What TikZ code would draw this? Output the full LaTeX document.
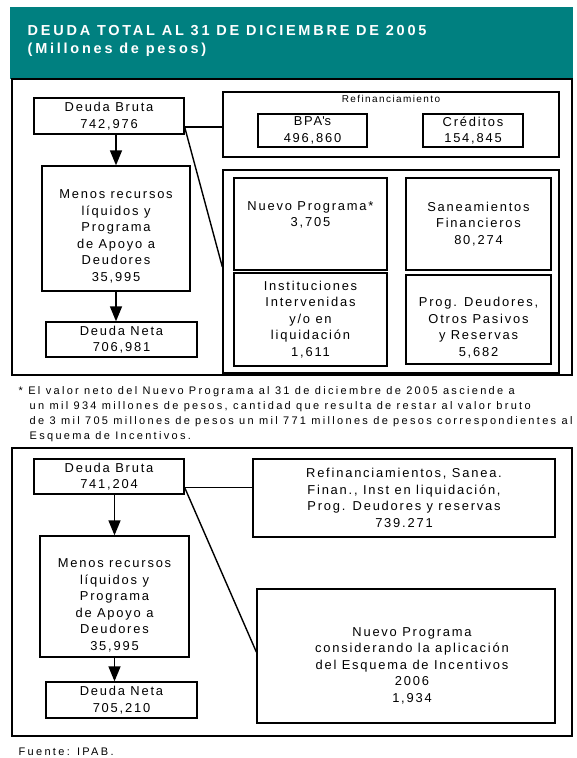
\documentclass[tikz,border=0pt]{standalone}
\usepackage{fontspec}
\setmainfont{Liberation Sans}[LetterSpace=14]
\newfontfamily\notafont{Liberation Sans}[LetterSpace=21]
\newfontfamily\titulofont{Liberation Sans}[LetterSpace=19]
\usepackage{tikz}
\usetikzlibrary{arrows.meta,positioning}
\definecolor{verdeipab}{RGB}{0,128,128}

\begin{document}
\begin{tikzpicture}[
            x = 1pt, y = -1pt, % pixel units, y going down
            > = {Triangle[width=12pt,length=15pt]}, % arrow head style
            line width = 1.4pt, % line style
            texto/.style = {font=\fontsize{12.9}{16.5}\selectfont, align=center},
            caja/.style = {draw=black, line width=1.3pt, inner sep=0pt, texto},
            marco/.style = {draw=black, line width=1.6pt},
            nota/.style = {font=\notafont\fontsize{11}{15}\selectfont, align=left, inner sep=0pt}
        ]
\useasboundingbox (0,0) rectangle (577,758);
\fill[verdeipab] (10,7) rectangle (573,79);
\node[anchor=west, text=white, align=left, inner sep=0pt, font=\titulofont\bfseries\fontsize{14.5}{18}\selectfont] (titulo) at (27,41) {DEUDA TOTAL AL 31 DE DICIEMBRE DE 2005\\(Millones de pesos)};

% 2005
\draw[marco] (12,79) rectangle (572,375);
\node[caja, minimum width=150pt, minimum height=36pt] (bruto1) at (109,116) {Deuda Bruta\\742,976};
\node[caja, minimum width=148pt, minimum height=125pt, label={[texto,yshift=-8pt]center:Menos recursos\\líquidos y\\Programa\\de Apoyo a\\Deudores\\35,995}] (menos1) at (116,228.5) {};
\node[caja, minimum width=151pt, minimum height=35pt] (neta1) at (121.5,339.5) {Deuda Neta\\706,981};
\node[caja, minimum width=336pt, minimum height=65pt, label={[font=\fontsize{10}{12}\selectfont, anchor=north]north:Refinanciamiento}] (refin) at (391,124.5) {};
\node[caja, minimum width=109pt, minimum height=33pt] (bpa) at (312.5,130.5) {BPA\textquotesingle s\\496,860};
\node[caja, minimum width=100pt, minimum height=33pt] (cred) at (473,130.5) {Créditos\\154,845};
\node[caja, minimum width=336pt, minimum height=203pt] (grupo) at (391,271.5) {};
\node[caja, minimum width=153pt, minimum height=92pt, label={[texto,yshift=9pt]center:Nuevo Programa*\\3,705}] (nuevo1) at (310.5,224) {};
\node[caja, minimum width=145pt, minimum height=92pt] (sanea) at (478.5,224) {Saneamientos\\Financieros\\80,274};
\node[caja, minimum width=153pt, minimum height=93pt] (inst) at (310.5,319.5) {Instituciones\\Intervenidas\\y/o en\\liquidación\\1,611};
\node[caja, minimum width=145pt, minimum height=89pt, label={[texto,yshift=-8pt]center:Prog. Deudores,\\Otros Pasivos\\y Reservas\\5,682}] (progd) at (478.5,319.5) {};

\coordinate (b1r) at ([yshift=-11pt]bruto1.east);
 \path [->] (bruto1.south -| menos1.north) edge (menos1.north);
 \path [->] (menos1.south) edge (menos1.south |- neta1.north);
   \path [-] (b1r) edge (b1r -| refin.west);
   \path [-] (b1r) edge ([yshift=4.5pt]grupo.west);

\node[nota, anchor=west] (nota) at (18,414.5) {* El valor neto del Nuevo Programa al 31 de diciembre de 2005 asciende a\\
\hspace*{11pt}un mil 934 millones de pesos, cantidad que resulta de restar al valor bruto\\
\hspace*{11pt}de 3 mil 705 millones de pesos un mil 771 millones de pesos correspondientes al\\
\hspace*{11pt}Esquema de Incentivos.};

% 2006
\draw[marco] (12,448) rectangle (572,736);
\node[caja, minimum width=150pt, minimum height=35pt] (bruto2) at (109,476.5) {Deuda Bruta\\741,204};
\node[caja, minimum width=149pt, minimum height=121pt, label={[texto,yshift=-9pt]center:Menos recursos\\líquidos y\\Programa\\de Apoyo a\\Deudores\\35,995}] (menos2) at (114.5,596.5) {};
\node[caja, minimum width=151pt, minimum height=36pt] (neta2) at (121.5,700) {Deuda Neta\\705,210};
\node[caja, minimum width=302pt, minimum height=78pt] (refs2) at (404,498) {Refinanciamientos, Sanea.\\Finan., Inst en liquidación,\\Prog. Deudores y reservas\\739.271};
\node[caja, minimum width=298pt, minimum height=134pt, label={[texto,xshift=6pt,yshift=-9.5pt]center:Nuevo Programa\\considerando la aplicación\\del Esquema de Incentivos\\2006\\1,934}] (nuevo2) at (406,656) {};

\coordinate (b2r) at ([yshift=-11pt]bruto2.east);
 \path [->] (bruto2.south -| menos2.north) edge (menos2.north);
 \path [->] (menos2.south) edge (menos2.south |- neta2.north);
   \path [-] (b2r) edge (b2r -| refs2.west);
   \path [-] (b2r) edge ([yshift=4pt]nuevo2.west);

\node[nota, anchor=west] (fuente) at (18,752) {Fuente: IPAB.};
\end{tikzpicture}
\end{document}
